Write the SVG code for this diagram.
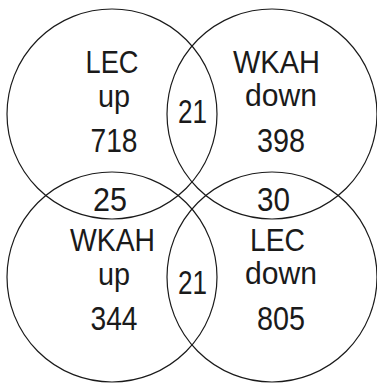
<svg xmlns="http://www.w3.org/2000/svg" width="377" height="384" viewBox="0 0 377 384">
<style>
.c{fill:none;stroke:#1a1a1a;stroke-width:1.2}
text{font-family:"Liberation Sans Narrow","Liberation Sans",Arial,sans-serif;fill:#1a1a1a;text-anchor:middle}
.w{font-size:32px}
.n{font-size:33px}
</style>
<rect width="377" height="384" fill="#fff"/>
<g id="circles">
<circle id="lec-up" class="c" cx="112" cy="114" r="105"/>
<circle id="wkah-down" class="c" cx="272" cy="114" r="105"/>
<circle id="wkah-up" class="c" cx="112" cy="277" r="105"/>
<circle id="lec-down" class="c" cx="272" cy="277" r="105"/>
</g>
<g id="labels">
<text class="w" x="112" y="73" textLength="53" lengthAdjust="spacingAndGlyphs">LEC</text>
<text class="w" x="114" y="107" textLength="32" lengthAdjust="spacingAndGlyphs">up</text>
<text class="n" x="114" y="152" textLength="47" lengthAdjust="spacingAndGlyphs">718</text>
<text class="n" x="192.5" y="123" textLength="29" lengthAdjust="spacingAndGlyphs">21</text>
<text class="w" x="276.5" y="73" textLength="87" lengthAdjust="spacingAndGlyphs">WKAH</text>
<text class="w" x="281" y="106" textLength="72" lengthAdjust="spacingAndGlyphs">down</text>
<text class="n" x="281" y="152" textLength="48" lengthAdjust="spacingAndGlyphs">398</text>
<text class="n" x="110" y="211" textLength="34" lengthAdjust="spacingAndGlyphs">25</text>
<text class="n" x="273.5" y="211" textLength="33" lengthAdjust="spacingAndGlyphs">30</text>
<text class="w" x="112.5" y="251" textLength="85" lengthAdjust="spacingAndGlyphs">WKAH</text>
<text class="w" x="114" y="285" textLength="32" lengthAdjust="spacingAndGlyphs">up</text>
<text class="n" x="114" y="330" textLength="47" lengthAdjust="spacingAndGlyphs">344</text>
<text class="n" x="192.5" y="294" textLength="29" lengthAdjust="spacingAndGlyphs">21</text>
<text class="w" x="277.5" y="251" textLength="55" lengthAdjust="spacingAndGlyphs">LEC</text>
<text class="w" x="281" y="284" textLength="72" lengthAdjust="spacingAndGlyphs">down</text>
<text class="n" x="281" y="330" textLength="48" lengthAdjust="spacingAndGlyphs">805</text>
</g>
</svg>
